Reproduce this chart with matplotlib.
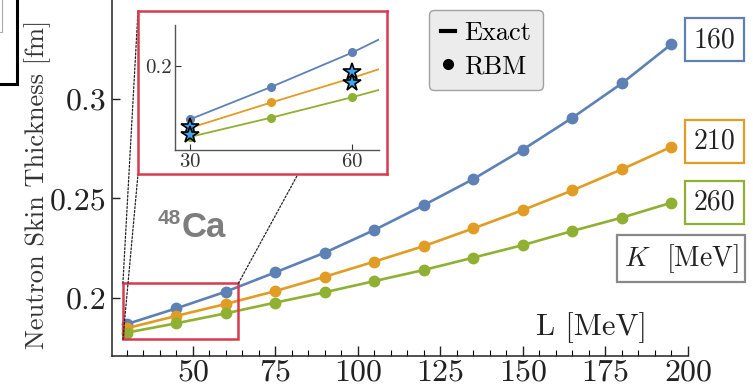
import matplotlib
matplotlib.use("Agg")
import matplotlib.pyplot as plt
from matplotlib.lines import Line2D
from matplotlib.patches import Rectangle, ConnectionPatch

plt.rcParams["mathtext.fontset"] = "cm"
plt.rcParams["font.family"] = ["cmr10", "DejaVu Serif"]
plt.rcParams["axes.formatter.use_mathtext"] = True

# ---- data: neutron skin thickness of 48Ca vs slope L, for three K values ----
L_values = [30, 45, 60, 75, 90, 105, 120, 135, 150, 165, 180, 195]
skin_K160 = [0.1869, 0.1948, 0.2032, 0.2129, 0.2228, 0.2342, 0.2467, 0.2598, 0.2746, 0.2906, 0.3079, 0.3276]
skin_K210 = [0.1848, 0.1910, 0.1970, 0.2035, 0.2107, 0.2183, 0.2261, 0.2350, 0.2442, 0.2541, 0.2647, 0.2760]
skin_K260 = [0.1826, 0.1873, 0.1923, 0.1977, 0.2029, 0.2085, 0.2141, 0.2203, 0.2266, 0.2337, 0.2404, 0.2479]
K_labels = ["160", "210", "260"]

# training points shown in the zoom panel
star_L = [30, 30, 60, 60]
star_skin = [0.1851, 0.1831, 0.1985, 0.1957]

x_major = [50, 75, 100, 125, 150, 175, 200]
x_minor = list(range(30, 201, 5))
y_ticks = [0.2, 0.25, 0.3]
y_ticklabels = ["0.2", "0.25", "0.3"]
inset_xticks = [30, 60]
inset_yticks = [0.2]
inset_yticklabels = ["0.2"]

colors = ["#5e81b5", "#e19c24", "#8fb032"]
red = "#d83a4e"
series = [skin_K160, skin_K210, skin_K260]

W, H = 753, 385
fig = plt.figure(figsize=(W / 100, H / 100), dpi=100)


def fx(px):
    return px / W


def fy(py):
    return 1 - py / H


# ---- main axes ----
ax = fig.add_axes([fx(112), fy(356), fx(688) - fx(112), fy(0) - fy(356)])
ax.set_xlim(25.5, 200)
ax.set_ylim(0.17085, 0.34975)
for s in ["top", "right"]:
    ax.spines[s].set_visible(False)
for s in ["left", "bottom"]:
    ax.spines[s].set_color("#222222")
    ax.spines[s].set_linewidth(1.1)

for ys, c in zip(series, colors):
    ax.plot(L_values, ys, "-o", color=c, lw=1.9, ms=7.5, clip_on=False, zorder=3)

ax.set_xticks(x_major)
ax.set_xticks(x_minor, minor=True)
ax.set_yticks(y_ticks)
ax.set_yticklabels(y_ticklabels)
ax.tick_params(axis="x", which="major", direction="in", length=7, width=1, pad=2,
               labelsize=23, colors="#222222")
ax.tick_params(axis="x", which="minor", direction="in", length=4, width=0.8)
ax.tick_params(axis="y", which="major", direction="in", length=6, width=1, pad=4,
               labelsize=23, colors="#222222")

ax.set_xlabel("L [MeV]", fontsize=22, color="#222222")
ax.xaxis.set_label_coords((591 - 112) / 576, (356 - 328) / 356)
ax.xaxis.label.set_va("center")
ax.set_ylabel("Neutron Skin Thickness [fm]", fontsize=19, color="#333333")
ax.yaxis.set_label_coords((38 - 112) / 576, (356 - 184) / 356)
ax.yaxis.label.set_va("center")

# boxed K labels next to the last point of each curve
label_dy = [3, 4, 0]
for ys, c, lab, dy in zip(series, colors, K_labels, label_dy):
    ax.annotate(lab, xy=(L_values[-1], ys[-1]), xytext=(31, dy), textcoords="offset points",
                ha="center", va="center", fontsize=20, color="#222222", annotation_clip=False,
                bbox=dict(boxstyle="square,pad=0.3", fc="white", ec=c, lw=1.6))

ax.text((681 - 112) / 576, (356 - 258.5) / 356, r"$K$  [MeV]", transform=ax.transAxes,
        ha="center", va="center", fontsize=20, color="#222222", clip_on=False,
        bbox=dict(boxstyle="square,pad=0.25", fc="white", ec="#888888", lw=1.6))

# zoom region
rx0, rx1, ry0, ry1 = 28.8, 63.8, 0.1792, 0.2074
ax.add_patch(Rectangle((rx0, ry0), rx1 - rx0, ry1 - ry0, fill=False, ec=red, lw=1.8, zorder=4))

# nucleus label
fig.text(fx(181.5), fy(237), "Ca", ha="left", va="baseline", fontsize=25, fontweight="bold",
         color="#7d7d7d", family="Liberation Sans")
fig.text(fx(180.5), fy(209.5), "48", ha="right", va="top", fontsize=15, fontweight="bold",
         color="#7d7d7d", family="Liberation Sans")

# legend
handles = [Line2D([], [], color="black", lw=3),
           Line2D([], [], color="black", marker="o", ls="", ms=7)]
leg = fig.legend(handles, ["Exact", "RBM"], loc="center", bbox_to_anchor=(fx(486), fy(50)),
                 fontsize=19, handlelength=0.55, handletextpad=0.35, labelspacing=0.35,
                 borderpad=0.45, frameon=True, fancybox=True, framealpha=1)
leg.get_frame().set_facecolor("#ececec")
leg.get_frame().set_edgecolor("#a0a0a0")
leg.get_frame().set_linewidth(1.0)

# ---- zoom panel: red frame and inner axes ----
frame = fig.add_axes([fx(138), fy(174), fx(387) - fx(138), fy(11) - fy(174)], zorder=5)
frame.set_xticks([])
frame.set_yticks([])
frame.set_facecolor("white")
for s in frame.spines.values():
    s.set_color(red)
    s.set_linewidth(1.8)

inset = fig.add_axes([fx(175), fy(150), fx(379) - fx(175), fy(25) - fy(150)], zorder=6)
inset.patch.set_alpha(0)
inset.set_xlim(27.2, 64.9)
inset.set_ylim(0.1794, 0.2099)
for s in ["top", "right"]:
    inset.spines[s].set_visible(False)
for s in ["left", "bottom"]:
    inset.spines[s].set_color("#555555")
    inset.spines[s].set_linewidth(1.0)
for ys, c in zip(series, colors):
    inset.plot(L_values, ys, "-o", color=c, lw=1.3, ms=5.5, zorder=3)
inset.plot(star_L, star_skin, ls="", marker="*", ms=13, mfc="#3ea6ec", mec="black",
           mew=1.2, zorder=5, clip_on=False)
inset.set_xticks(inset_xticks)
inset.set_yticks(inset_yticks)
inset.set_yticklabels(inset_yticklabels)
inset.tick_params(direction="in", length=4, width=0.8, labelsize=15, pad=2, colors="#333333")

# dotted connectors from the zoom region to the panel corners
for (xa, ya), (xb, yb) in [((rx0, ry1), (0, 1)), ((rx0, ry0), (0, 0)), ((rx1, ry1), (1, 1))]:
    con = ConnectionPatch(xyA=(xa, ya), coordsA=ax.transData, xyB=(xb, yb),
                          coordsB=frame.transAxes, ls=(0, (1.5, 1.5)), lw=0.9, color="#222222")
    con.set_zorder(2)
    fig.add_artist(con)

# partial framed panel at the top-left edge
fig.add_artist(Rectangle((fx(-40), fy(83.5)), fx(16.5) - fx(-40), fy(-10) - fy(83.5),
                         transform=fig.transFigure, fill=False, ec="black", lw=2.2))
fig.add_artist(Rectangle((fx(-40), fy(32)), fx(2) - fx(-40), fy(-10) - fy(32),
                         transform=fig.transFigure, fill=False, ec="#aaaaaa", lw=0.8))

fig.savefig("out.png", dpi=100)
